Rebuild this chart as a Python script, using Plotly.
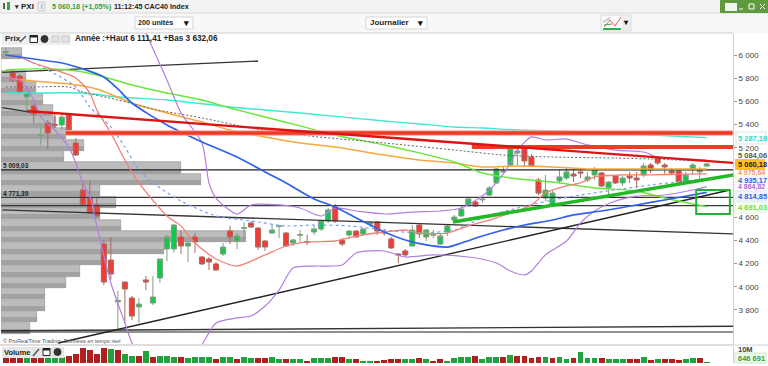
import plotly.graph_objects as go

W, H = 768, 366
# --- candles ---
opens = [6020,5845,5819,5638,5560,5305,5413,5400,5396,5483,5241,4835,4766,4706,4369,4231,3870,4041,3903,3826,4059,3860,4076,4326,4326,4430,4352,4430,4257,4240,4197,4283,4481,4395,4505,4550,4507,4395,4464,4520,4464,4378,4445,4390,4473,4499,4568,4689,4404,4447,4481,4456,4540,4559,4470,4413,4283,4309,4352,4533,4430,4445,4369,4473,4576,4611,4706,4732,4750,4792,4896,4990,5051,5155,5189,5120,4922,4766,4697,4913,4939,4973,4991,4922,4965,4982,4853,4956,4896,4956,4939,4965,5051,5111,5051,4999,4999,4896,5017,4991,5042]
highs = [6061,5870,5836,5681,5577,5396,5439,5500,5483,5491,5284,4904,4913,4766,4404,4430,3964,4045,3920,3903,4093,4093,4240,4447,4545,4490,4385,4464,4266,4257,4214,4378,4525,4464,4559,4568,4516,4404,4542,4533,4473,4413,4490,4450,4533,4576,4680,4715,4421,4490,4490,4507,4568,4568,4500,4430,4292,4326,4533,4542,4499,4490,4464,4542,4620,4697,4775,4740,4775,4870,5025,5034,5200,5198,5198,5146,4939,4965,4835,5008,5025,5008,5008,4991,5034,4991,4913,4965,4956,4991,4991,5068,5068,5129,5068,5025,5008,4990,5068,5034,5068]
lows = [6000,5767,5664,5526,5413,5224,5189,5370,5353,5345,5129,4697,4628,4602,4015,4059,3627,3688,3713,3688,3972,3843,4033,4223,4292,4283,4214,4292,4188,4145,4136,4266,4369,4326,4404,4507,4318,4309,4455,4421,4343,4352,4387,4361,4447,4481,4550,4550,4352,4413,4421,4438,4516,4447,4440,4326,4205,4257,4350,4421,4395,4420,4361,4438,4559,4607,4689,4689,4723,4783,4887,4982,5042,5051,5042,5034,4792,4740,4689,4896,4922,4904,4939,4904,4922,4861,4783,4887,4870,4896,4853,4947,4982,5051,4965,4965,4896,4887,4965,4922,5034]
closes = [6030,5785,5681,5672,5491,5315,5327,5392,5465,5353,5137,4706,4637,4611,4041,4110,3882,3981,3748,3851,4041,3912,4240,4430,4533,4352,4378,4387,4197,4214,4145,4343,4430,4438,4510,4516,4343,4343,4490,4525,4352,4404,4450,4385,4499,4568,4663,4568,4369,4481,4430,4499,4550,4481,4465,4335,4275,4275,4490,4456,4490,4450,4438,4525,4602,4671,4758,4697,4756,4853,5017,5000,5198,5172,5086,5042,4809,4835,4809,4948,4991,4956,4982,4948,5008,4870,4904,4896,4939,4939,4922,5042,5008,5068,5034,4982,4904,4965,5051,5008,5060]
days = list(range(len(closes)))

# --- volume (millions) ---
volume = [4.3,4.3,4.3,4.3,4.3,4.3,4.3,4.3,4.3,5.7,7.1,11.4,9.3,7.1,11.4,10.7,9.3,7.1,5.7,5.7,8.6,5,5.7,5.7,5,4.3,3.6,5,4.3,4.3,2.9,4.3,4.3,2.9,4.3,3.6,3.6,3.6,5,2.9,2.9,2.9,2.9,2.1,3.6,3.6,3.6,5,4.3,2.9,2.9,2.1,2.1,2.1,2.5,
          2.9,3.2,2.9,3.2,3.9,2.9,2.1,2.9,1.8,3.9,5,4.3,5.4,2.9,4.3,5,4.3,6.4,5.4,5.7,3.9,5,4.3,3.6,4.3,3.2,3.6,7.9,3.6,3.9,3.6,2.9,2.9,2.9,2.9,3.2,4.3,2.5,3.2,3.2,2.9,2.5,2.9,3.6,3.6,0.65]
volume_dir = list("dddudduuu" "dddddd" "uduud" "uduuu" "duuuu" "duudu" "udduu" "duudu" "uuddu" "duudd"
                  "dduud" "uddu" "u" "uudu" "u" "udud" "d" "ddudu" "uduuu" "duuud" "dudud" "dduud" "u")

# --- moving averages & bands: (day, price) ---
blue_d = [0,2,5,8,11,14,16,18,23,28,33,37,40,44,47,50,54,57,60,63,65,68,71,74,78,81,85,90,94,100]
blue_p = [6000,5983,5957,5931,5880,5810,5707,5586,5396,5250,5120,4991,4896,4758,4689,4594,4473,4404,4361,4343,4378,4438,4490,4533,4576,4620,4654,4706,4749,4815]
lime_d = [0,4,9,13,18,23,28,32,37,42,47,54,59,64,68,72,79,84,90,94,100]
lime_p = [5871,5880,5871,5828,5741,5672,5612,5543,5465,5388,5310,5224,5155,5077,4982,4939,4896,4853,4827,4766,4691]
orange_d = [0,4,9,13,18,23,28,32,37,42,47,54,59,64,68,73,78,83,87,92,100]
orange_p = [5802,5776,5750,5707,5586,5500,5422,5353,5293,5241,5206,5137,5094,5068,5034,5042,5034,5017,5017,5017,5017]
cyan_d = [0,4,11,16,23,32,42,54,59,64,68,73,83,92,100]
cyan_p = [5672,5672,5672,5638,5612,5552,5500,5431,5405,5379,5370,5353,5336,5310,5287]
grey_d = [0,4,9,11,16,21,28,35,42,54,64,71,78,87,92,100]
grey_p = [5724,5724,5724,5681,5612,5534,5457,5370,5310,5241,5180,5137,5120,5111,5103,5084]
upper_d = [20,23,25,28,29,30,33,35,39,42,45,47,50,54,58,62,65,68,70,72,73,75,77,80,83,87,91,93,97,100]
upper_p = [6190,5785,5500,5241,4896,4766,4628,4706,4706,4680,4611,4680,4654,4628,4645,4654,4680,4783,4896,5068,5180,5293,5267,5275,5224,5180,5163,5120,5103,5094]
lower_d = [0,2,4,5,7,9,10,11,12,13,15,17,18,19,23,28,30,33,35,37,39,41,44,48,50,54,57,61,66,70,72,74,75,77,80,82,84,87,90,94,98,100]
lower_p = [5802,5785,5612,5465,5353,5206,5068,4896,4783,4525,4033,3688,3515,3411,3023,3498,3688,3731,3748,3834,3972,4162,4179,4188,4292,4309,4257,4275,4257,4205,4136,4102,4136,4275,4395,4550,4654,4740,4783,4792,4835,4865]
salmon_d = [0,2,4,7,10,12,13,15,17,19,23,25,27,30,33,37,40,43,47,50,54,57,59,63,66,69,72,75,77,80,82,84,88,92,97,100]
salmon_p = [6000,5983,5931,5871,5802,5672,5526,5327,5094,4896,4611,4525,4378,4240,4179,4275,4352,4387,4395,4438,4473,4490,4464,4464,4525,4576,4637,4706,4809,4870,4896,4948,4965,4965,4973,4975]
dotted_d = [3,6,10,12,15,17,19,21,25,30,35,40,44,49,54,59,64,68,73,78,82,92,97,100]
dotted_p = [5957,5871,5724,5552,5379,5206,5008,4896,4740,4611,4568,4525,4533,4525,4490,4464,4490,4594,4680,4749,4792,4879,4913,4935]

# --- horizontal levels and trend lines: (day, day), (price, price) ---
level_prices = [5009.03, 4771.39, 4700]
low_level_d, low_level_p = [-1, 104], [3610, 3610]
rising_low_d, rising_low_p = [-1, 104], [3620, 3660]
short_trend_d, short_trend_p = [-0.5, 36], [5850, 5948]
fall_a_d, fall_a_p = [-0.5, 3.5], [5546, 5508]
fall_b_d, fall_b_p = [-0.5, 104], [4663, 4456]
rise_d, rise_p = [7.5, 103.3], [3515, 4835]
red_trend_d, red_trend_p = [3, 103.8], [5517, 5069]
red_band_d, red_band_p = [8.6, 103.7], [5327, 5327]
red_band2_d, red_band2_p = [66.5, 104.6], [5207, 5207]
green_trend_d, green_trend_p = [63.8, 103.8], [4559, 4965]
box_d, box_p = [98.5, 103.3], [4835, 4628]

# --- volume profile ---
profile_price = [6013,5914,5815,5717,5618,5519,5420,5321,5223,5124,5025,4926,4828,4729,4630,4531,4433,4334,4235,4136,4037,3939,3840,3741,3642]
profile_size = [21,0,25,35,42,52,55,65,83,63,180,200,99,115,99,120,245,163,102,79,65,44,44,36,29]

# --- texts ---
tick_values = [6000,5800,5600,5400,5200,4600,4400,4200,4000,3800]
tick_text = ["6 000","5 800","5 600","5 400","5 200","4 600","4 400","4 200","4 000","3 800"]
FONT = "Liberation Sans"


def px(x):
    return x / W


def py(y):
    return 1 - y / H


shapes, annos = [], []


def rect(x0, y0, x1, y1, fill=None, line=None, lw=1):
    shapes.append(dict(type="rect", xref="paper", yref="paper", x0=px(x0), x1=px(x1), y0=py(y0), y1=py(y1),
                       fillcolor=fill if fill else "rgba(0,0,0,0)",
                       line=dict(color=line if line else "rgba(0,0,0,0)", width=lw if line else 0)))


def seg(x0, y0, x1, y1, color, lw=1):
    shapes.append(dict(type="line", xref="paper", yref="paper", x0=px(x0), x1=px(x1), y0=py(y0), y1=py(y1),
                       line=dict(color=color, width=lw)))


def circle(x0, y0, x1, y1, fill):
    shapes.append(dict(type="circle", xref="paper", yref="paper", x0=px(x0), x1=px(x1), y0=py(y0), y1=py(y1),
                       fillcolor=fill, line=dict(color=fill, width=1)))


def text(x, y, s, size=9, color="#222", bold=False, anchor="left"):
    annos.append(dict(xref="paper", yref="paper", x=px(x), y=py(y), text=f"<b>{s}</b>" if bold else s,
                      showarrow=False, xanchor=anchor, yanchor="middle",
                      font=dict(family=FONT, size=size, color=color), borderpad=0))


# toolbars
rect(0, 0, 768, 13, fill="#f3f3f3")
rect(0, 13, 768, 33, fill="#f8f8f8")
seg(0, 13, 768, 13, "#d8d8d8")
seg(0, 33, 733, 33, "#cfcfcf")
rect(0, 363, 733, 366, fill="#ffffff")
rect(720, 0, 768, 13, fill="#5f9a3e")
rect(725, 3, 737, 11, fill="#f2f5ef")
seg(739, 9, 743, 9, "#ffffff", 1)
rect(749, 4, 754, 9, line="#ffffff")
seg(760, 4, 765, 9, "#ffffff", 1)
seg(765, 4, 760, 9, "#ffffff", 1)
rect(135, 17, 193, 29, fill="#ffffff", line="#d5d5d5")
rect(366, 17, 427, 29, fill="#ffffff", line="#d5d5d5")
text(137, 23, "200 unités", 7.2, "#222", True)
text(369, 23, "Journalier", 8, "#222", True)
text(186, 23, "▾", 9, "#111", True, "center")
text(420, 23, "▾", 9, "#111", True, "center")
rect(601, 15, 631, 31, fill="#eeeeee", line="#dddddd")
rect(602, 16, 622, 30, fill="#fbfbfb")
seg(603, 22, 610, 18, "#c8c8c8", 2)
seg(604, 27, 610, 20, "#e06060", 1)
seg(610, 20, 615, 26, "#e06060", 1)
seg(615, 26, 621, 17, "#e06060", 1)
seg(604, 25, 612, 24, "#50a050", 1)
rect(603, 28, 621, 30, fill="#30b050")
text(626, 23, "▾", 8, "#111", True, "center")
# top line
rect(3, 3, 5, 9, fill="#556655")
rect(7, 2, 10, 10, fill="#33aa44")
text(13, 6.5, "▾", 7, "#333", True)
text(20, 6.5, "PXI", 8, "#222", True)
rect(38, 2, 45, 11, fill="#eeeeee", line="#cccccc")
text(41.5, 6.5, "i", 7, "#777", False, "center")
text(51, 6.5, "5 060,18 (+1,05%)", 7.2, "#2ea043", True)
text(113, 6.5, "11:12:45 CAC40 Index", 7.2, "#222", True)
# price header
rect(2, 34, 71, 45, fill="#eeeeee")
text(3.5, 38.5, "Prix", 8, "#222", True)
seg(20, 42, 26, 36, "#555", 1.5)
rect(30, 35.5, 37.5, 42.5, fill="#ffffff", line="#222")
rect(30, 35.5, 37.5, 37.5, fill="#222")
circle(41, 35.5, 48, 42.5, "#333")
rect(52, 36, 59, 42, fill="#e2e2e2", line="#cccccc")
rect(62, 36, 69, 42, fill="#e2e2e2", line="#cccccc")
text(74, 38.5, "Année :+Haut 6 111,41 +Bas 3 632,06", 8.2, "#222", True)
text(2, 166, "5 009,03", 6.5, "#222", True)
text(2, 194, "4 771,39", 6.5, "#222", True)
text(2, 341, "© ProRealTime Trading- Données en temps réel", 5.5, "#555")
# volume header
rect(2, 347, 64, 358, fill="#e6e6e6")
text(3, 352, "Volume", 7.5, "#222", True)
seg(33, 356, 39, 349, "#555", 1.5)
rect(43, 348.5, 50, 355.5, fill="#ffffff", line="#222")
rect(43, 348.5, 50, 350.5, fill="#222")
circle(54, 348.5, 61, 355.5, "#333")
seg(0, 345, 733, 345, "#d2d2d2", 1.5)
# right labels
rect(736, 132, 766, 144, line="#e2e2e2", fill="#f8fffe")
text(737, 138, "5 287,16", 7.5, "#35d8c0", True)
text(737, 155.5, "5 084,06", 7.5, "#555555", True)
rect(735, 159, 765, 170, fill="#ffc21a")
text(737, 164.5, "5 060,18", 7.5, "#222", True)
text(737, 172.5, "4 975,64", 7, "#f09090", True)
rect(735, 176, 766, 185, fill="#f3f6ff")
text(737, 180.5, "4 935,17", 7.5, "#2f62e8", True)
text(737, 187.5, "4 864,82", 7, "#a868d8", True)
rect(735, 191, 766, 201, fill="#eef3ff", line="#e0e6f5")
text(737, 196, "4 814,85", 7.5, "#2f62e8", True)
rect(735, 202, 766, 213, fill="#f6fff0", line="#e4f2dc")
text(737, 207.5, "4 691,03", 7.5, "#6fdc3c", True)
text(737, 349, "10M", 7.5, "#444", True)
rect(735, 353, 766, 363, fill="#effaef", line="#cfe8cf")
text(737, 358, "646 691", 7.5, "#33a033", True)
seg(733, 345, 768, 345, "#d2d2d2", 1)

fig = go.Figure()
# volume profile on the base layer, with a darker lower edge on every row
fig.add_trace(go.Bar(y=profile_price, x=profile_size, orientation="h", width=96,
                     marker=dict(color="#bcbcbc", line=dict(color="#8e8e8e", width=0.6)),
                     xaxis="x", yaxis="y", showlegend=False))
fig.add_trace(go.Bar(y=[p - 26 for p in profile_price], x=profile_size, orientation="h", width=42,
                     marker=dict(color="#a2a2a2", line=dict(width=0)),
                     xaxis="x", yaxis="y", showlegend=False))


def line(xs, ys, color, width, dash=None, spline=True, clip=True):
    fig.add_trace(go.Scatter(x=xs, y=ys, mode="lines", xaxis="x2", yaxis="y", showlegend=False, cliponaxis=clip,
                             line=dict(color=color, width=width, dash=dash,
                                       shape="spline" if spline else "linear", smoothing=0.7)))


for lv in level_prices:
    line([-1, 104], [lv, lv], "#222222" if lv == level_prices[0] else "#3a3a3a", 1.4, spline=False)
line(low_level_d, low_level_p, "#222222", 1.2, spline=False)
line(rising_low_d, rising_low_p, "#333333", 1.4, spline=False)
line(short_trend_d, short_trend_p, "#333333", 1.3, spline=False)
line(fall_a_d, fall_a_p, "#333333", 1.3, spline=False)
line(fall_b_d, fall_b_p, "#333333", 1.3, spline=False)
line(rise_d, rise_p, "#222222", 1.4, spline=False)

fig.add_trace(go.Candlestick(x=days, open=opens, high=highs, low=lows, close=closes, xaxis="x2", yaxis="y",
                             showlegend=False,
                             increasing=dict(line=dict(color="#7f9f80", width=1), fillcolor="#12c84a"),
                             decreasing=dict(line=dict(color="#a86a60", width=1), fillcolor="#f43a34")))

line(cyan_d, cyan_p, "#3fe8cf", 1.4)
line(orange_d, orange_p, "#f8a83c", 1.5)
line(lime_d, lime_p, "#66e83a", 1.4)
line(grey_d, grey_p, "#666666", 1, dash="2px,2px")
line(dotted_d, dotted_p, "#7f9df0", 1.2, dash="3px,3px")
line(upper_d, upper_p, "#b27ee0", 1.2)
line(lower_d, lower_p, "#b27ee0", 1.2)
line(salmon_d, salmon_p, "#f08078", 1.3)
line(blue_d, blue_p, "#2f62e8", 1.7)

line(red_band_d, red_band_p, "#f6a8a0", 5.5, spline=False, clip=False)
line(red_band_d, red_band_p, "#f03a24", 3.5, spline=False, clip=False)
line(red_band2_d, red_band2_p, "#f03a24", 4, spline=False, clip=False)
line(red_trend_d, red_trend_p, "#dd1414", 2.4, spline=False, clip=False)
line(green_trend_d, green_trend_p, "#22b826", 3.6, spline=False, clip=False)
line([box_d[0], box_d[1], box_d[1], box_d[0], box_d[0]], [box_p[0], box_p[0], box_p[1], box_p[1], box_p[0]],
     "#22b030", 2, spline=False, clip=False)

fig.add_trace(go.Bar(x=days, y=volume, width=0.84, xaxis="x3", yaxis="y2", showlegend=False,
                     marker=dict(color=["#1fa33e" if u == "u" else "#b02020" for u in volume_dir],
                                 line=dict(width=0))))

dom_x = [1 / W, 733 / W]
fig.update_layout(
    width=W, height=H, margin=dict(l=0, r=0, t=0, b=0), paper_bgcolor="#ffffff", plot_bgcolor="#ffffff",
    barmode="overlay", bargap=0, boxgap=0.28, boxgroupgap=0, dragmode=False, shapes=shapes, annotations=annos,
    font=dict(family=FONT),
    xaxis=dict(domain=dom_x, range=[0, 732], visible=False, fixedrange=True, anchor="y"),
    xaxis2=dict(domain=dom_x, range=[-0.67, 103.75], visible=False, fixedrange=True, overlaying="x", anchor="y",
                rangeslider=dict(visible=False)),
    xaxis3=dict(domain=dom_x, range=[-0.67, 103.75], visible=False, fixedrange=True, anchor="y2"),
    yaxis=dict(domain=[py(344.5), py(33)], range=[3502, 6190], side="right", anchor="x", showgrid=False,
               zeroline=False, showline=True, linecolor="#cfcfcf", linewidth=1, tickvals=tick_values,
               ticktext=tick_text, ticks="outside", ticklen=3, tickcolor="#999999", fixedrange=True,
               tickfont=dict(family="Liberation Sans Bold, Liberation Sans", size=8, color="#444444")),
    yaxis2=dict(domain=[py(363), py(345.5)], range=[0, 12.5], side="right", anchor="x3", showgrid=False,
                zeroline=False, showline=True, linecolor="#cfcfcf", showticklabels=False, fixedrange=True),
)
fig.write_html("out.html", config=dict(displayModeBar=False),
               post_script="document.body.style.margin='0';document.body.style.overflow='hidden';")
